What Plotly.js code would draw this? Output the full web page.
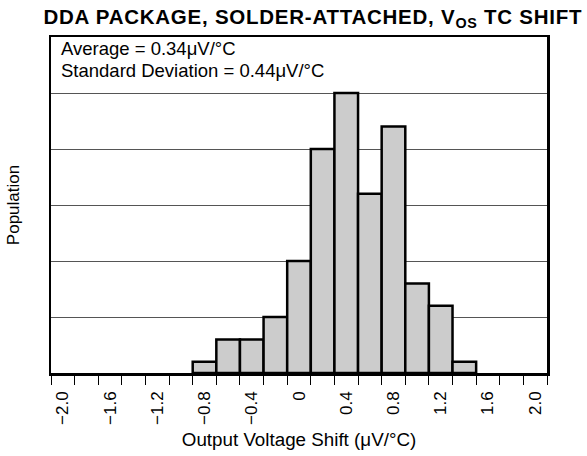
<!DOCTYPE html>
<html>
<head>
<meta charset="utf-8">
<script src="https://cdn.plot.ly/plotly-3.0.1.min.js"></script>
<style>
  html, body { margin: 0; padding: 0; background: #fff; }
  #chart { width: 587px; height: 456px; }
  .gtitle { letter-spacing: 0.75px; }
</style>
</head>
<body>
<div id="chart"></div>
<script>
// Histogram bins (center of each 0.2 µV/°C bin) and relative population
const binCenters = [-0.8, -0.6, -0.4, -0.2, 0.0, 0.2, 0.4, 0.6, 0.8, 1.0, 1.2, 1.4];
const population = [0.2, 0.6, 0.6, 1.0, 2.0, 4.0, 5.0, 3.2, 4.4, 1.6, 1.2, 0.2];

// Bin edges (tick marks) and labelled values
const binEdges = [-2.1, -1.9, -1.7, -1.5, -1.3, -1.1, -0.9, -0.7, -0.5, -0.3, -0.1,
                  0.1, 0.3, 0.5, 0.7, 0.9, 1.1, 1.3, 1.5, 1.7, 1.9, 2.1];
const tickLabelValues = [-2.0, -1.6, -1.2, -0.8, -0.4, 0, 0.4, 0.8, 1.2, 1.6, 2.0];
const tickLabelText = ['\u22122.0', '\u22121.6', '\u22121.2', '\u22120.8', '\u22120.4', '0',
                       '0.4', '0.8', '1.2', '1.6', '2.0'];
const gridValues = [1, 2, 3, 4, 5];

const FONT = 'Liberation Sans, Arial, Helvetica, sans-serif';

const traces = [
  {
    type: 'bar',
    x: binCenters,
    y: population,
    width: 0.2,
    marker: { color: '#cccccc', line: { color: '#000000', width: 2.5 } },
    hoverinfo: 'x+y',
    xaxis: 'x',
    yaxis: 'y'
  },
  {
    type: 'scatter',
    mode: 'markers',
    x: tickLabelValues,
    y: tickLabelValues.map(() => 0),
    marker: { opacity: 0, size: 1 },
    hoverinfo: 'skip',
    showlegend: false,
    xaxis: 'x2',
    yaxis: 'y'
  }
];

const layout = {
  width: 587,
  height: 456,
  margin: { l: 51, r: 40, t: 37, b: 83 },
  paper_bgcolor: '#ffffff',
  plot_bgcolor: '#ffffff',
  showlegend: false,
  bargap: 0,
  font: { family: FONT, color: '#000000', size: 17 },
  title: {
    text: '<b>DDA PACKAGE, SOLDER-ATTACHED, V<sub>OS</sub> TC SHIFT</b>',
    font: { family: FONT, size: 20.5, color: '#000000' },
    x: 0.533,
    xanchor: 'center',
    y: 0.963,
    yanchor: 'middle'
  },
  xaxis: {
    range: [-2.1, 2.1],
    tickmode: 'array',
    tickvals: binEdges,
    ticktext: binEdges.map(() => ''),
    ticks: 'outside',
    ticklen: 9,
    tickwidth: 1,
    tickcolor: '#000000',
    showgrid: false,
    zeroline: false,
    showline: true,
    linewidth: 2.5,
    linecolor: '#000000',
    mirror: true,
    fixedrange: true
  },
  xaxis2: {
    overlaying: 'x',
    side: 'bottom',
    range: [-2.1, 2.1],
    tickmode: 'array',
    tickvals: tickLabelValues,
    ticktext: tickLabelText,
    tickangle: -90,
    ticks: '',
    ticklabelstandoff: 14,
    tickfont: { family: FONT, size: 17, color: '#000000' },
    showgrid: false,
    zeroline: false,
    showline: false,
    title: {
      text: 'Output Voltage Shift (\u03bcV/\u00b0C)',
      font: { family: FONT, size: 18.8, color: '#000000' },
      standoff: 8
    },
    fixedrange: true
  },
  yaxis: {
    range: [0, 6],
    tickmode: 'array',
    tickvals: gridValues,
    showticklabels: false,
    ticks: '',
    showgrid: true,
    gridcolor: '#555555',
    gridwidth: 1,
    zeroline: false,
    showline: true,
    linewidth: 2.5,
    linecolor: '#000000',
    mirror: true,
    title: {
      text: 'Population',
      font: { family: FONT, size: 17, color: '#000000' },
      standoff: 25
    },
    fixedrange: true
  },
  annotations: [
    {
      text: 'Average = 0.34\u03bcV/\u00b0C',
      xref: 'paper', yref: 'paper',
      x: 0.017, y: 0.966,
      xanchor: 'left', yanchor: 'middle',
      showarrow: false,
      font: { family: FONT, size: 18.5, color: '#000000' }
    },
    {
      text: 'Standard Deviation = 0.44\u03bcV/\u00b0C',
      xref: 'paper', yref: 'paper',
      x: 0.017, y: 0.899,
      xanchor: 'left', yanchor: 'middle',
      showarrow: false,
      font: { family: FONT, size: 18.5, color: '#000000' }
    }
  ]
};

Plotly.newPlot('chart', traces, layout, { displayModeBar: false, staticPlot: true });
</script>
</body>
</html>
